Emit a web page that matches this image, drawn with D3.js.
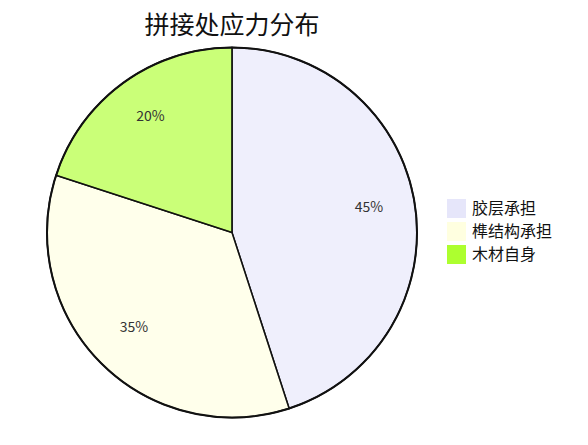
<!DOCTYPE html>
<html>
<head>
<meta charset="utf-8">
<script src="https://cdn.jsdelivr.net/npm/d3@7"></script>
<style>
  body { margin: 0; background: #fff; }
  svg { display: block; font-family: "Noto Sans CJK SC", "Noto Sans", sans-serif; }
</style>
</head>
<body>
<svg id="chart" width="588" height="445"></svg>
<script>
// chart data
const categories = ['胶层承担', '榫结构承担', '木材自身'];
const shares = [45, 35, 20];
const colors = ['#e6e6fa', '#ffffe0', '#adff2f'];

const svg = d3.select('#chart');
const cx = 232, cy = 232.5, radius = 185;

// title
svg.append('text')
    .attr('x', cx)
    .attr('y', 34)
    .attr('text-anchor', 'middle')
    .attr('font-size', 25)
    .attr('fill', '#111')
    .text('拼接处应力分布');

const pie = d3.pie().sort(null).value(d => d);
const arc = d3.arc().innerRadius(0).outerRadius(radius);
const labelArc = d3.arc().innerRadius(radius * 0.75).outerRadius(radius * 0.75);

const g = svg.append('g').attr('transform', `translate(${cx},${cy})`);
const arcs = pie(shares);

g.selectAll('path.slice')
    .data(arcs)
    .enter()
    .append('path')
    .attr('class', 'slice')
    .attr('d', arc)
    .attr('fill', (d, i) => colors[i])
    .attr('fill-opacity', 0.65)
    .attr('stroke', '#111')
    .attr('stroke-width', 1.5);

// outer ring
g.append('circle')
    .attr('r', radius)
    .attr('fill', 'none')
    .attr('stroke', '#111')
    .attr('stroke-width', 2);

g.selectAll('text.pct')
    .data(arcs)
    .enter()
    .append('text')
    .attr('class', 'pct')
    .attr('transform', d => {
        const [x, y] = labelArc.centroid(d);
        return `translate(${x},${y - 4})`;
    })
    .attr('text-anchor', 'middle')
    .attr('dy', '0.35em')
    .attr('font-size', 14)
    .attr('fill', '#333')
    .text(d => d.data + '%');

// legend
const legend = svg.append('g').attr('transform', 'translate(447,199)');
const item = legend.selectAll('g')
    .data(categories)
    .enter()
    .append('g')
    .attr('transform', (d, i) => `translate(0,${i * 23})`);

item.append('rect')
    .attr('width', 19)
    .attr('height', 19)
    .attr('fill', (d, i) => colors[i]);

item.append('text')
    .attr('x', 25)
    .attr('y', 9.5)
    .attr('dy', '0.35em')
    .attr('font-size', 16)
    .attr('fill', '#111')
    .text(d => d);
</script>
</body>
</html>
